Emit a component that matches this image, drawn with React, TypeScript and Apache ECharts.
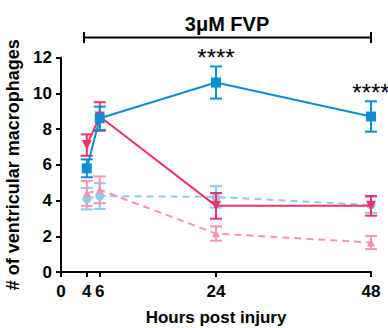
import React, { useEffect, useRef } from "react";
import * as echarts from "echarts";

const hours = [4, 6, 24, 48];
const xTickValues = [0, 4, 6, 24, 48];

const fvpBlueMean = [5.8, 8.6, 10.6, 8.7];
const fvpBlueErr = [0.5, 0.65, 0.9, 0.85];

const fvpRedMean = [7.1, 8.7, 3.7, 3.7];
const fvpRedErr = [0.6, 0.8, 0.72, 0.55];

const ctrlBlueMean = [4.1, 4.25, 4.2, 3.75];
const ctrlBlueErr = [0.6, 0.72, 0.6, 0.45];

const ctrlPinkMean = [4.4, 4.6, 2.15, 1.65];
const ctrlPinkErr = [0.7, 0.75, 0.4, 0.37];

const sigHours = [24, 48];
const sigLevels = [12.0, 10.05];
const sigText = "****";

const BLUE = "#0a8fd5";
const RED = "#f5306a";
const LBLUE = "#8ccbee";
const PINK = "#f993b2";

function errSeries(mean: number[], err: number[], color: string, z: number) {
  return {
    type: "custom",
    z,
    silent: true,
    data: hours.map((h, i) => [h, mean[i] - err[i], mean[i] + err[i]]),
    renderItem: (params: any, api: any) => {
      const x = api.value(0);
      const top = api.coord([x, api.value(2)]);
      const bot = api.coord([x, api.value(1)]);
      const w = 6;
      const style = { stroke: color, lineWidth: 2 };
      return {
        type: "group",
        children: [
          { type: "line", shape: { x1: top[0], y1: top[1], x2: bot[0], y2: bot[1] }, style },
          { type: "line", shape: { x1: top[0] - w, y1: top[1], x2: top[0] + w, y2: top[1] }, style },
          { type: "line", shape: { x1: bot[0] - w, y1: bot[1], x2: bot[0] + w, y2: bot[1] }, style },
        ],
      };
    },
  };
}

function lineSeries(mean: number[], color: string, symbol: string, size: number, dashed: boolean, z: number) {
  return {
    type: "line",
    z,
    data: hours.map((h, i) => [h, mean[i]]),
    symbol,
    symbolSize: size,
    showAllSymbol: true,
    lineStyle: { color, width: 2, type: dashed ? [7, 5] : "solid" },
    itemStyle: { color, borderWidth: 0 },
  };
}

export default function App() {
  const ref = useRef<HTMLDivElement>(null);
  useEffect(() => {
    if (!ref.current) return;
    const chart = echarts.init(ref.current, null, { renderer: "svg" });
    const font = "Arial, 'Liberation Sans', sans-serif";
    chart.setOption({
      animation: false,
      grid: { left: 61, right: 17, top: 57.5, bottom: 56, containLabel: false, outerBoundsMode: "none" },
      xAxis: {
        type: "value",
        min: 0,
        max: 48,
        interval: 2,
        splitLine: { show: false },
        axisLine: { show: true, lineStyle: { color: "#000", width: 2 } },
        axisTick: { show: true, length: 5, lineStyle: { color: "#000", width: 2 }, customValues: xTickValues },
        axisLabel: { customValues: xTickValues, color: "#000", fontWeight: "bold", fontSize: 17, fontFamily: font, margin: 11 },
        name: "Hours post injury",
        nameLocation: "middle",
        nameGap: 37,
        nameTextStyle: { color: "#000", fontWeight: "bold", fontSize: 17, fontFamily: font },
      },
      yAxis: {
        type: "value",
        min: 0,
        max: 12,
        interval: 2,
        splitLine: { show: false },
        axisLine: { show: true, lineStyle: { color: "#000", width: 2 } },
        axisTick: { show: true, length: 5, lineStyle: { color: "#000", width: 2 } },
        axisLabel: { color: "#000", fontWeight: "bold", fontSize: 17, fontFamily: font, margin: 9 },
        name: "# of ventricular macrophages",
        nameLocation: "middle",
        nameGap: 34,
        nameTextStyle: { color: "#000", fontWeight: "bold", fontSize: 18, fontFamily: font },
      },
      series: [
        errSeries(ctrlBlueMean, ctrlBlueErr, LBLUE, 1),
        errSeries(ctrlPinkMean, ctrlPinkErr, PINK, 1),
        lineSeries(ctrlBlueMean, LBLUE, "circle", 9, true, 2),
        lineSeries(ctrlPinkMean, PINK, "triangle", 8, true, 2),
        errSeries(fvpRedMean, fvpRedErr, RED, 3),
        lineSeries(fvpRedMean, RED, "path://M0,0 L10,0 L5,9 Z", 10, false, 4),
        errSeries(fvpBlueMean, fvpBlueErr, BLUE, 5),
        lineSeries(fvpBlueMean, BLUE, "rect", 10, false, 6),
      ],
    });
    const stars = sigHours.map((h, i) => {
      const p = chart.convertToPixel({ gridIndex: 0 }, [h, sigLevels[i]]) as number[];
      return {
        type: "text",
        z: 10,
        x: p[0],
        y: p[1],
        style: {
          text: sigText,
          font: `24px ${font}`,
          fill: "#000",
          textAlign: "center",
          textVerticalAlign: "middle",
        },
      };
    });
    chart.setOption({
      graphic: [
        { type: "text", x: 227, y: 24, style: { text: "3μM FVP", font: `bold 20px ${font}`, fill: "#000", textAlign: "center", textVerticalAlign: "middle" } },
        { type: "line", shape: { x1: 84, y1: 37.5, x2: 371, y2: 37.5 }, style: { stroke: "#000", lineWidth: 2 } },
        { type: "line", shape: { x1: 84, y1: 32, x2: 84, y2: 43 }, style: { stroke: "#000", lineWidth: 2 } },
        { type: "line", shape: { x1: 371, y1: 32, x2: 371, y2: 43 }, style: { stroke: "#000", lineWidth: 2 } },
        ...stars,
      ],
    });
    return () => chart.dispose();
  }, []);
  return (
    <div
      ref={ref}
      style={{ position: "fixed", left: 0, top: 0, width: 388, height: 328, background: "#fff" }}
    />
  );
}
